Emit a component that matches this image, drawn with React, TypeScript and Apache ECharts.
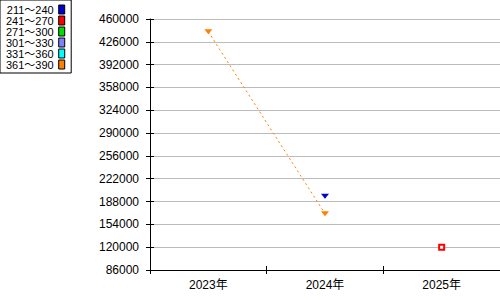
import React, { useEffect, useRef } from "react";
import * as echarts from "echarts";

const categories = ["2023年", "2024年", "2025年"];
const seriesNames = ["211～240", "241～270", "271～300", "301～330", "331～360", "361～390"];
const seriesColors = ["#0000cc", "#ff0000", "#00dd00", "#8080ff", "#00ffff", "#ff8000"];
const values211: (number | null)[] = [null, 196000, null];
const values241: (number | null)[] = [null, null, 120000];
const values271: (number | null)[] = [null, null, null];
const values301: (number | null)[] = [null, null, null];
const values331: (number | null)[] = [null, null, null];
const values361: (number | null)[] = [441000, 170000, null];
const yMin = 86000;
const yMax = 460000;
const yInterval = 34000;

const FONT = '"Liberation Sans", "Noto Sans CJK JP", sans-serif';

export default function App() {
  const ref = useRef<HTMLDivElement>(null);
  useEffect(() => {
    if (!ref.current) return;
    const chart = echarts.init(ref.current, undefined, { renderer: "svg" });
    const allValues = [values211, values241, values271, values301, values331, values361];
    const series: any[] = allValues.map((vals, i) => {
      const base: any = {
        name: seriesNames[i],
        type: "line",
        data: vals,
        xAxisIndex: 0,
        yAxisIndex: 0,
        connectNulls: false,
        color: seriesColors[i],
        lineStyle: { color: seriesColors[i], width: 1, type: [2, 3] },
        itemStyle: { color: seriesColors[i] },
        symbol: "triangle",
        symbolRotate: 180,
        symbolSize: [8, 5],
      };
      if (i === 1) {
        base.symbol = "emptyRect";
        base.symbolRotate = 0;
        base.symbolSize = 5;
        base.itemStyle = { color: seriesColors[i], borderWidth: 1.2 };
      }
      return base;
    });
    chart.setOption({
      animation: false,
      backgroundColor: "#ffffff",
      textStyle: { fontFamily: FONT },
      legend: {
        orient: "vertical",
        left: 0,
        top: 0,
        align: "right",
        icon: "rect",
        itemWidth: 6,
        itemHeight: 9,
        itemGap: 0,
        itemTextGap: 12,
        padding: [4, 6, 3, 6],
        borderColor: "#000",
        borderWidth: 1,
        backgroundColor: "#fff",
        itemStyle: { borderColor: "#000", borderWidth: 1 },
        textStyle: { fontFamily: FONT, fontSize: 11, color: "#000", lineHeight: 11 },
        data: seriesNames,
      },
      grid: { left: 150, top: 19, width: 350, height: 251, containLabel: false },
      xAxis: [
        {
          type: "category",
          data: categories,
          boundaryGap: true,
          axisLine: { show: true, lineStyle: { color: "#000", width: 1 } },
          axisTick: { show: true, inside: false, length: 4, lineStyle: { color: "#000" } },
          axisLabel: { color: "#000", fontSize: 12, fontFamily: FONT, margin: 9 },
          splitLine: { show: false },
        },
        {
          type: "category",
          data: categories,
          position: "bottom",
          boundaryGap: true,
          axisLine: { show: false },
          axisTick: { show: true, inside: true, length: 4, lineStyle: { color: "#000" } },
          axisLabel: { show: false },
          splitLine: { show: false },
        },
      ],
      yAxis: [
        {
          type: "value",
          min: yMin,
          max: yMax,
          interval: yInterval,
          axisLine: { show: true, lineStyle: { color: "#000", width: 1 } },
          axisTick: { show: true, inside: false, length: 4, lineStyle: { color: "#000" } },
          axisLabel: {
            color: "#000",
            fontSize: 12,
            fontFamily: FONT,
            margin: 11,
            formatter: (v: number) => String(v),
          },
          splitLine: { show: true, lineStyle: { color: "#bbbbbb", width: 1 } },
        },
        {
          type: "value",
          min: yMin,
          max: yMax,
          interval: yInterval,
          position: "left",
          axisLine: { show: false },
          axisTick: { show: true, inside: true, length: 4, lineStyle: { color: "#000" } },
          axisLabel: { show: false },
          splitLine: { show: false },
        },
      ],
      series,
    });
    return () => chart.dispose();
  }, []);
  return (
    <div
      ref={ref}
      style={{ position: "absolute", left: 0, top: 0, width: 500, height: 300 }}
    />
  );
}
